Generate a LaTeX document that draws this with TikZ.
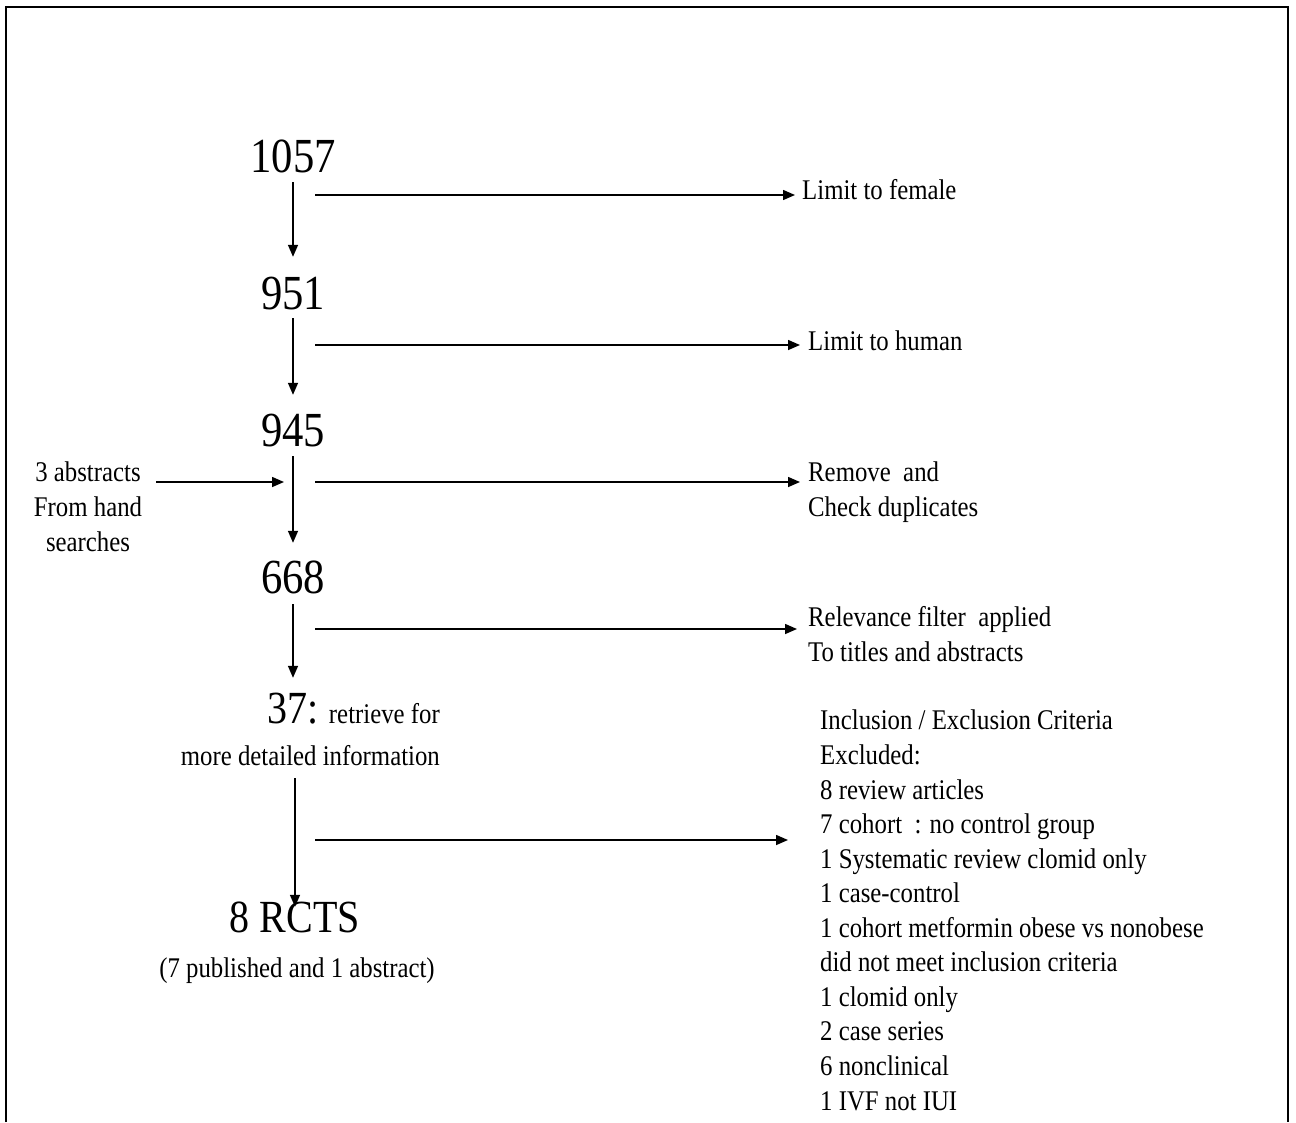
\documentclass[tikz,border=0pt]{standalone}
\usepackage{fontspec}
\setmainfont[FakeStretch=0.87]{Liberation Serif}
\usetikzlibrary{arrows.meta}
\begin{document}
\begin{tikzpicture}[x=1pt,y=-1pt,
  num/.style={inner sep=0pt,anchor=base,text height=35pt,text depth=0pt,font=\fontsize{49}{58}\selectfont},
  lbl/.style={inner sep=0pt,anchor=base west,align=left,font=\fontsize{28.5}{34.55}\selectfont},
  arr/.style={line width=1.5pt,-{Triangle[length=12pt,width=10pt]}},
  frame/.style={line width=1.6pt}]
\useasboundingbox (0,0) rectangle (1296,1122);
\draw[frame] (6,1122) -- (6,7) -- (1288,7) -- (1288,1122);

% main column
\node[num] (n1057) at (293,172) {1057};
\node[num] (n951) at (293,309) {951};
\node[num] (n945) at (293,446) {945};
\node[num] (n668) at (293,593) {668};
\node[inner sep=0pt,anchor=base east,text height=35pt,text depth=0pt] (n37) at (440,723)
  {{\fontsize{46}{55}\selectfont 37:}\hspace{10pt}{\fontsize{28.5}{34.55}\selectfont retrieve for}};
\node[inner sep=0pt,anchor=base east,text depth=0pt,font=\fontsize{28.5}{34.55}\selectfont] (n37b) at (440,765) {more detailed information};
\node[num,text height=25pt,font=\fontsize{46}{55}\selectfont] (nRCT) at (295,932) {8 RCTS};
\node[inner sep=0pt,anchor=base,font=\fontsize{28.5}{34.55}\selectfont] (nPub) at (297,977) {(7 published and 1 abstract)};

% left input (base anchor = last line)
\node[inner sep=0pt,anchor=base,align=center,font=\fontsize{28.5}{34.55}\selectfont] (nHand) at (88,551)
  {3 abstracts\\From hand\\searches};

% right labels (base anchor = last line)
\node[lbl] (t1) at (802,199) {Limit to female};
\node[lbl] (t2) at (808,350) {Limit to human};
\node[lbl] (t3) at (808,516) {Remove\ \ and\\Check duplicates};
\node[lbl] (t4) at (808,661) {Relevance filter\ \ applied\\To titles and abstracts};
\node[lbl] (t5) at (820,1110) {Inclusion / Exclusion Criteria\\Excluded:\\8 review articles\\7 cohort\ \ : no control group\\1 Systematic review clomid only\\1 case-control\\1 cohort metformin obese vs nonobese\\did not meet inclusion criteria\\1 clomid only\\2 case series\\6 nonclinical\\1 IVF not IUI};

% vertical flow
\draw[arr,shorten <=10pt,shorten >=17pt] (n1057.south) -- (n951.north);
\draw[arr,shorten <=9pt,shorten >=16pt] (n951.south) -- (n945.north);
\draw[arr,shorten <=10pt,shorten >=15pt] (n945.south) -- (n668.north);
\draw[arr,shorten <=11pt,shorten >=10pt] (n668.south) -- (n668.south |- n37.north);
\draw[arr,shorten <=13pt] (nRCT.north |- n37b.south) -- (nRCT.north);

% side arrows
\coordinate (s1) at (315,195); \coordinate (e1) at (795,195);
\coordinate (s2) at (315,345); \coordinate (e2) at (800,345);
\coordinate (s3) at (315,482); \coordinate (e3) at (800,482);
\coordinate (s4) at (315,629); \coordinate (e4) at (797,629);
\coordinate (s5) at (315,840); \coordinate (e5) at (788,840);
\coordinate (in3) at (284,482);
\draw[arr] (s1) -- (e1);
\draw[arr] (s2) -- (e2);
\draw[arr] (s3) -- (e3);
\draw[arr] (s4) -- (e4);
\draw[arr] (s5) -- (e5);
\draw[arr,shorten <=14pt] (nHand.east |- in3) -- (in3);
\end{tikzpicture}
\end{document}
